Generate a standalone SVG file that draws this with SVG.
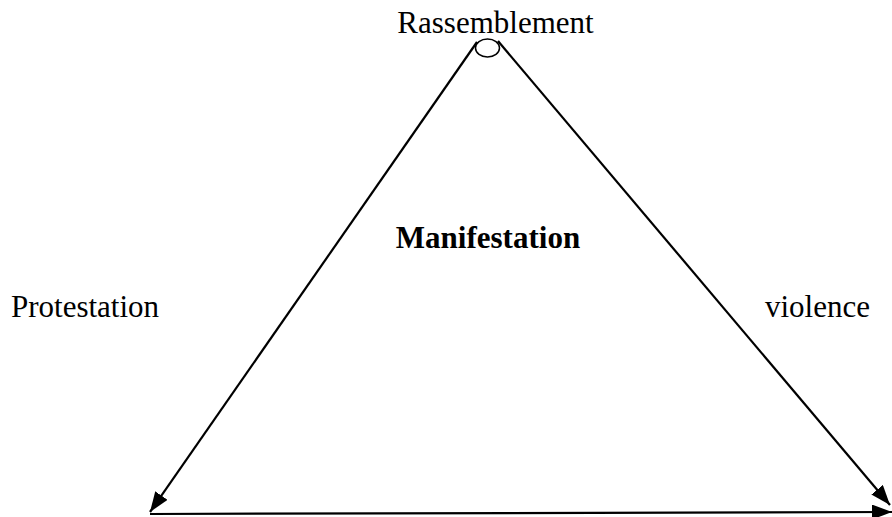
<svg xmlns="http://www.w3.org/2000/svg" width="892" height="517" viewBox="0 0 892 517">
<style>
text{font-family:"Liberation Serif","Times New Roman",serif;font-size:31px;fill:#000}
.ln{stroke:#000;stroke-width:2.2;fill:none}
</style>
<defs>
<marker id="ah" viewBox="0 0 20 15" refX="20" refY="7.5" markerWidth="20" markerHeight="15" markerUnits="userSpaceOnUse" orient="auto">
<path d="M0,0 L20,7.5 L0,15 Z" fill="#000"/>
</marker>
</defs>
<rect width="892" height="517" fill="#fff"/>
<g id="connectors">
<line class="ln" x1="477" y1="42" x2="150" y2="512" marker-end="url(#ah)"/>
<line class="ln" x1="498" y1="41" x2="890" y2="505" marker-end="url(#ah)"/>
<line class="ln" x1="150" y1="514" x2="892" y2="512" stroke-width="2.6" marker-end="url(#ah)"/>
</g>
<g id="rassemblement">
<ellipse cx="487.5" cy="48" rx="12" ry="9" fill="#fff" stroke="#000" stroke-width="1.5"/>
<text x="495.5" y="33" text-anchor="middle">Rassemblement</text>
</g>
<g id="manifestation">
<text x="488" y="248" text-anchor="middle" font-weight="bold" font-size="32">Manifestation</text>
</g>
<g id="protestation">
<text x="11" y="317">Protestation</text>
</g>
<g id="violence">
<text x="765" y="317">violence</text>
</g>
</svg>
